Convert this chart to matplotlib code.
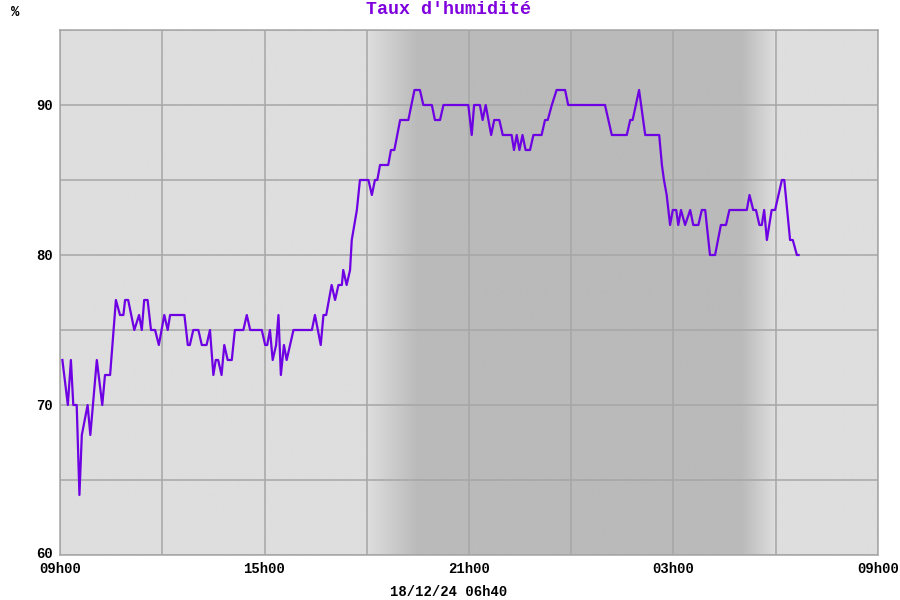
import numpy as np
import matplotlib
matplotlib.use('Agg')
import matplotlib.pyplot as plt
import matplotlib.transforms as mtransforms
from matplotlib.colors import LinearSegmentedColormap

# heures écoulées depuis 09h00 (17/12) et humidité relative (%)
heures = [0.07, 0.23, 0.32, 0.39, 0.49, 0.57, 0.64, 0.81, 0.89, 1.08,
          1.24, 1.32, 1.47, 1.64, 1.76, 1.86, 1.91, 2.00, 2.18, 2.32,
          2.40, 2.47, 2.57, 2.67, 2.79, 2.90, 3.06, 3.16, 3.23, 3.65,
          3.75, 3.81, 3.91, 4.06, 4.16, 4.30, 4.40, 4.50, 4.57, 4.64,
          4.74, 4.82, 4.92, 5.04, 5.13, 5.38, 5.48, 5.58, 5.92, 6.02,
          6.08, 6.16, 6.24, 6.34, 6.41, 6.48, 6.57, 6.65, 6.85, 7.39,
          7.48, 7.65, 7.73, 7.81, 7.97, 8.07, 8.17, 8.27, 8.31, 8.41,
          8.51, 8.56, 8.71, 8.80, 9.05, 9.15, 9.24, 9.31, 9.39, 9.63,
          9.71, 9.81, 9.98, 10.22, 10.40, 10.56, 10.66, 10.91, 11.00, 11.15,
          11.25, 11.98, 12.08, 12.15, 12.32, 12.40, 12.49, 12.65, 12.74, 12.89,
          12.99, 13.25, 13.32, 13.40, 13.48, 13.57, 13.66, 13.79, 13.89, 14.13,
          14.23, 14.31, 14.43, 14.57, 14.82, 14.91, 15.99, 16.19, 16.63, 16.73,
          16.80, 16.99, 17.17, 17.58, 17.66, 17.72, 17.80, 17.90, 17.98, 18.08,
          18.14, 18.22, 18.34, 18.49, 18.58, 18.73, 18.83, 18.93, 19.07, 19.22,
          19.39, 19.54, 19.64, 20.15, 20.23, 20.34, 20.42, 20.52, 20.59, 20.66,
          20.74, 20.88, 20.98, 21.18, 21.25, 21.42, 21.50, 21.62, 21.67]
humidite = [73, 70, 73, 70, 70, 64, 68, 70, 68, 73,
            70, 72, 72, 77, 76, 76, 77, 77, 75, 76,
            75, 77, 77, 75, 75, 74, 76, 75, 76, 76,
            74, 74, 75, 75, 74, 74, 75, 72, 73, 73,
            72, 74, 73, 73, 75, 75, 76, 75, 75, 74,
            74, 75, 73, 74, 76, 72, 74, 73, 75, 75,
            76, 74, 76, 76, 78, 77, 78, 78, 79, 78,
            79, 81, 83, 85, 85, 84, 85, 85, 86, 86,
            87, 87, 89, 89, 91, 91, 90, 90, 89, 89,
            90, 90, 88, 90, 90, 89, 90, 88, 89, 89,
            88, 88, 87, 88, 87, 88, 87, 87, 88, 88,
            89, 89, 90, 91, 91, 90, 90, 88, 88, 89,
            89, 91, 88, 88, 86, 85, 84, 82, 83, 83,
            82, 83, 82, 83, 82, 82, 83, 83, 80, 80,
            82, 82, 83, 83, 84, 83, 83, 82, 82, 83,
            81, 83, 83, 85, 85, 81, 81, 80, 80]

heures_ticks = [0, 6, 12, 18, 24]
labels_x = ['09h00', '15h00', '21h00', '03h00', '09h00']
labels_y = [60, 70, 80, 90]

# crépuscule / aube (heures depuis 09h00)
nuit_debut = (9.0, 10.5)
nuit_fin = (20.0, 21.0)

POLICE = 'Liberation Mono'
VIOLET = '#7f00dd'
COUL_LIGNE = '#6e00e4'
GRILLE = '#a6a6a6'

fig = plt.figure(figsize=(9, 6), dpi=100)
ax = fig.add_axes([60 / 900, 45 / 600, 818 / 900, 525 / 600])

# ── fond jour / nuit en dégradé ──
xs = np.linspace(0, 24, 1200)
nuit = np.interp(xs, [0, nuit_debut[0], nuit_debut[1], nuit_fin[0], nuit_fin[1], 24],
                 [0, 0, 1, 1, 0, 0])
cmap = LinearSegmentedColormap.from_list('jn', ['#dedede', '#bababa'])
ax.imshow(nuit[np.newaxis, :], extent=(0, 24, 60, 95), aspect='auto',
          cmap=cmap, vmin=0, vmax=1, zorder=0, interpolation='bilinear')

ax.plot(heures, humidite, color=COUL_LIGNE, linewidth=1.6, zorder=3)

ax.set_xlim(0, 24)
ax.set_ylim(60, 95)
ax.set_xticks(heures_ticks)
ax.set_xticklabels(labels_x)
ax.set_xticks(range(3, 24, 6), minor=True)
ax.set_yticks(range(60, 96, 5))
ax.set_yticklabels([str(v) if v in labels_y else '' for v in range(60, 96, 5)])
ax.grid(True, which='both', color=GRILLE, linewidth=1.1, zorder=1)
for line in ax.get_xgridlines() + ax.get_ygridlines():
    line.set_zorder(1)
ax.tick_params(which='both', length=0)
ax.tick_params(axis='x', pad=5)
ax.tick_params(axis='y', pad=5)
for lab in ax.get_xticklabels() + ax.get_yticklabels():
    lab.set_fontfamily(POLICE)
    lab.set_fontweight('bold')
    lab.set_fontsize(10)

# le "60" est remonté pour ne pas toucher "09h00"
lab60 = ax.get_yticklabels()[0]
lab60.set_transform(lab60.get_transform() +
                    mtransforms.ScaledTranslation(0, 3 / 100, fig.dpi_scale_trans))

for s in ax.spines.values():
    s.set_color(GRILLE)
    s.set_linewidth(1.1)

fig.text(449 / 900, 1 - 10 / 600, "Taux d'humidité", ha='center', va='center',
         fontfamily=POLICE, fontweight='bold', fontsize=13.2, color=VIOLET)
fig.text(15 / 900, 1 - 12 / 600, '%', ha='center', va='center',
         fontfamily=POLICE, fontweight='bold', fontsize=10, color='black')
fig.text(449 / 900, 1 - 592 / 600, '18/12/24 06h40', ha='center', va='center',
         fontfamily=POLICE, fontweight='bold', fontsize=10, color='black')

fig.savefig('out.png', dpi=100, facecolor='white')
